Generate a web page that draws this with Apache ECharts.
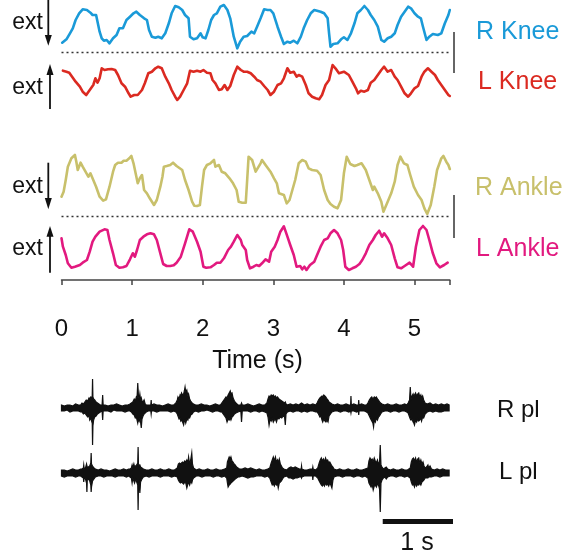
<!DOCTYPE html>
<html><head><meta charset="utf-8">
<script src="https://cdn.jsdelivr.net/npm/echarts/dist/echarts.min.js"></script>
<style>html,body{margin:0;padding:0;background:#fff}#c{width:566px;height:557px}</style>
</head><body><div id="c"></div>
<script>
// ---- data: [time (s), deflection] ----
const xTicks = [0, 1, 2, 3, 4, 5];
const rKnee = [[0.01,13.3],[0.07,16.7],[0.12,22.7],[0.16,27.7],[0.2,36],[0.25,42.7],[0.3,46.7],[0.36,46],[0.41,43.3],[0.44,41],[0.49,41],[0.52,31],[0.54,24.3],[0.57,17.7],[0.6,15.3],[0.64,16],[0.68,12.7],[0.73,17.7],[0.78,21],[0.82,27.7],[0.87,27.7],[0.92,36],[0.97,39.3],[1.02,42.7],[1.06,44.3],[1.11,41],[1.17,37.7],[1.21,36],[1.24,26],[1.28,19.3],[1.33,18.3],[1.37,19.3],[1.42,17.7],[1.47,22.7],[1.52,32.7],[1.56,42.7],[1.61,50],[1.66,48.7],[1.71,46],[1.75,41],[1.8,37.7],[1.82,19.3],[1.87,16.7],[1.92,17.7],[1.97,22.7],[2,18.7],[2.04,17.7],[2.08,26],[2.12,36],[2.16,41],[2.2,42.7],[2.25,49.3],[2.3,51],[2.35,46],[2.39,37.7],[2.44,19.3],[2.49,7.7],[2.53,14.3],[2.58,19.3],[2.63,20],[2.69,24.3],[2.73,22.7],[2.77,29.3],[2.82,37.7],[2.87,46.7],[2.92,46],[2.96,46],[3,42.7],[3.06,29.3],[3.11,19.3],[3.15,12],[3.2,14.3],[3.24,13.3],[3.29,15.3],[3.34,12.7],[3.39,19.3],[3.43,27.7],[3.48,36],[3.53,42.7],[3.58,46],[3.62,45.3],[3.67,44.3],[3.72,42.7],[3.77,37.7],[3.79,22.7],[3.81,9.3],[3.85,12],[3.91,12.7],[3.96,16.7],[4,18.7],[4.05,16],[4.1,22.7],[4.15,32.7],[4.19,42.7],[4.24,46],[4.29,50],[4.34,46],[4.38,41],[4.43,36],[4.48,29.3],[4.53,16],[4.57,14.3],[4.62,17.7],[4.67,19.3],[4.72,22.7],[4.76,31],[4.81,39.3],[4.86,44.3],[4.91,49.3],[4.95,47.7],[5,42.7],[5.05,39.3],[5.09,37.7],[5.12,29.3],[5.17,16],[5.21,19.3],[5.26,22],[5.33,21],[5.38,22.7],[5.43,32.7],[5.48,41],[5.5,46]];
const lKnee = [[0.02,35.3],[0.07,34.3],[0.11,33.3],[0.15,29.3],[0.2,24.3],[0.26,19.3],[0.3,14.3],[0.35,11],[0.4,16],[0.45,21],[0.48,27.7],[0.51,23.3],[0.54,27.7],[0.57,37.7],[0.61,36],[0.66,36.7],[0.71,37],[0.76,36],[0.8,31],[0.85,22.7],[0.9,19.3],[0.95,12.7],[0.98,9.3],[1.03,11],[1.08,11],[1.14,16],[1.18,22.7],[1.23,32.7],[1.28,34.3],[1.33,37.7],[1.37,39.3],[1.42,37.7],[1.47,29.3],[1.52,22.7],[1.56,16],[1.61,9.3],[1.64,6],[1.68,9.3],[1.73,16],[1.78,22.7],[1.82,35.3],[1.87,34.3],[1.92,35.3],[1.97,34.3],[2.01,36],[2.06,33.3],[2.11,32.7],[2.14,26],[2.18,22.7],[2.23,16],[2.27,16.7],[2.31,21],[2.35,16],[2.39,20],[2.44,31],[2.49,39.3],[2.54,36],[2.58,34.3],[2.63,34.3],[2.68,32.7],[2.73,29.3],[2.77,26],[2.82,24.3],[2.87,20],[2.92,16],[2.96,11],[3.01,14.3],[3.06,21],[3.11,22.7],[3.15,27.7],[3.2,37.7],[3.24,33.3],[3.29,34.3],[3.33,29.3],[3.36,31],[3.41,29.3],[3.46,21],[3.5,12.7],[3.55,9.3],[3.6,7.7],[3.65,6.7],[3.69,11],[3.74,21],[3.79,26],[3.84,41],[3.88,37.7],[3.93,32.7],[4,34.3],[4.07,31],[4.12,24.3],[4.17,17.7],[4.2,12.7],[4.24,15.3],[4.29,14.3],[4.34,16],[4.38,23.3],[4.43,26],[4.48,31],[4.53,36],[4.57,39.3],[4.62,34.3],[4.67,36],[4.72,29.3],[4.76,26],[4.81,19.3],[4.86,12.7],[4.91,9.3],[4.95,12.7],[5,17.7],[5.05,20],[5.1,29.3],[5.14,34.3],[5.19,37.7],[5.24,34.3],[5.29,31],[5.33,26],[5.38,21],[5.43,16],[5.48,11],[5.5,10]];
const rAnkle = [[0,23.3],[0.03,28.3],[0.06,40],[0.09,53.3],[0.14,61.7],[0.19,65],[0.21,58.3],[0.23,50],[0.27,57.3],[0.3,53.3],[0.34,48.3],[0.38,43.3],[0.41,46.7],[0.45,40],[0.49,33.3],[0.54,23.3],[0.59,19.3],[0.63,20.7],[0.68,33.3],[0.73,48.3],[0.76,55],[0.8,57.3],[0.85,57.3],[0.88,59.3],[0.92,59.3],[0.96,61.7],[0.99,64],[1.02,56.7],[1.05,46.7],[1.08,36.7],[1.11,41.7],[1.14,45],[1.17,30],[1.21,26.7],[1.25,21.7],[1.31,15],[1.35,20],[1.4,33.3],[1.43,43.3],[1.45,53.3],[1.49,54],[1.54,55],[1.58,57.3],[1.63,54],[1.71,50],[1.75,40],[1.8,30],[1.85,18.3],[1.88,14.3],[1.92,14],[1.96,15],[1.99,33.3],[2.02,50],[2.06,55],[2.11,56.7],[2.16,60],[2.18,53.3],[2.23,55],[2.27,48.3],[2.32,46.7],[2.38,41.7],[2.43,36.7],[2.48,30],[2.51,18.3],[2.56,17.3],[2.61,17.3],[2.63,40],[2.65,63.3],[2.7,60],[2.75,48.3],[2.77,50],[2.82,56.7],[2.84,60],[2.89,55],[2.96,48.3],[3.01,41.7],[3.05,36.7],[3.08,26.7],[3.15,25],[3.19,16.7],[3.23,20],[3.27,30],[3.31,40],[3.36,56.7],[3.41,60],[3.46,58.3],[3.5,51.7],[3.55,50],[3.62,49.3],[3.67,45],[3.72,30],[3.77,20],[3.81,16],[3.86,13.3],[3.91,11.7],[3.96,20],[4,46.7],[4.04,63.3],[4.09,56],[4.15,54],[4.19,55],[4.25,56.7],[4.31,50],[4.36,40],[4.41,30],[4.43,33.3],[4.48,26.7],[4.53,18.3],[4.56,8.3],[4.62,18.3],[4.67,26.7],[4.72,38.3],[4.76,55],[4.8,63.3],[4.85,56.7],[4.9,55],[4.94,45],[4.99,33.3],[5.05,25],[5.1,20],[5.14,11.7],[5.18,6],[5.23,15],[5.28,33.3],[5.32,50],[5.38,61.7],[5.41,64],[5.45,58.3],[5.48,55],[5.5,51]];
const lAnkle = [[0,41.7],[0.02,33.3],[0.06,25],[0.09,16.7],[0.14,12.3],[0.19,13.3],[0.26,15],[0.3,17.3],[0.36,20],[0.4,28.3],[0.44,38.3],[0.48,43.3],[0.54,48.3],[0.61,50.7],[0.65,50],[0.68,40],[0.73,26.7],[0.77,15],[0.82,12.3],[0.87,12.7],[0.92,14],[0.97,20.7],[1.01,26.7],[1.04,23.3],[1.07,30],[1.11,40],[1.16,43.3],[1.21,45.7],[1.26,46.7],[1.31,45.7],[1.35,40],[1.4,26.7],[1.44,16],[1.49,14],[1.54,14],[1.59,14.7],[1.63,17.3],[1.69,23.3],[1.75,36.7],[1.81,50.7],[1.86,48.3],[1.92,38.3],[1.97,28.3],[2.01,13.3],[2.05,12.3],[2.11,12.7],[2.16,15],[2.2,17.3],[2.25,17.3],[2.3,21.7],[2.36,30],[2.4,33.3],[2.44,38.3],[2.49,45],[2.54,40],[2.56,35],[2.58,36.7],[2.61,30],[2.63,20],[2.67,11.7],[2.72,13.3],[2.76,15],[2.8,14],[2.84,16.7],[2.89,20.7],[2.94,18.3],[2.97,28.3],[3.02,33.3],[3.06,40],[3.1,48.3],[3.15,53.7],[3.2,43.3],[3.24,35],[3.29,25],[3.33,13.3],[3.38,14],[3.41,10.7],[3.44,13.3],[3.47,10],[3.52,15],[3.58,18.3],[3.62,25],[3.67,33.3],[3.72,40],[3.77,41.7],[3.81,46.7],[3.86,50],[3.91,46.7],[3.96,40],[3.99,30],[4.02,13.3],[4.07,10],[4.12,11.7],[4.17,13.3],[4.22,16],[4.26,20],[4.31,26.7],[4.36,35],[4.41,40],[4.45,45],[4.5,49.3],[4.54,43.3],[4.57,46.7],[4.62,41.7],[4.67,35],[4.72,21.7],[4.76,12.7],[4.81,11.7],[4.86,14],[4.93,17.3],[4.98,13.3],[5.02,33.3],[5.07,50],[5.12,54],[5.17,50],[5.21,40],[5.26,26.7],[5.31,16.7],[5.36,12.7],[5.42,15],[5.47,17.3]];
// EMG envelopes: [time (s), upper, lower]
const rPl = [[0.00,3,-3],[0.04,2,-3],[0.08,3,-2],[0.12,3,-4],[0.16,2,-3],[0.20,4,-3],[0.24,3,-3],[0.27,3,-4],
[0.29,5,-4],[0.31,4,-6],[0.33,6,-5],[0.35,8,-7],[0.37,7,-9],[0.39,10,-8],[0.40,9,-12],[0.415,11,-10],[0.43,10,-14],[0.435,12,-13],[0.44,29,-37],[0.445,11,-18],[0.455,9,-12],[0.47,8,-9],[0.49,6,-8],[0.51,5,-6],[0.53,4,-5],[0.55,3,-4],[0.575,3,-3],[0.583,13,-12],[0.59,3,-3],
[0.62,3,-3],[0.66,2,-3],[0.70,3,-4],[0.74,3,-2],[0.78,4,-3],[0.82,3,-3],[0.86,2,-3],[0.90,3,-4],[0.94,3,-3],[0.97,4,-3],
[0.99,5,-4],[1.01,6,-6],[1.03,9,-7],[1.045,7,-10],[1.06,11,-9],[1.07,10,-12],[1.08,25,-15],[1.09,12,-11],[1.10,9,-13],[1.11,14,-10],[1.12,8,-14],[1.13,10,-20],[1.14,7,-11],[1.155,6,-8],[1.17,8,-6],[1.185,4,-5],[1.20,3,-4],
[1.23,3,-3],[1.265,3,-3],[1.27,8,-6],[1.275,3,-3],[1.31,4,-3],[1.35,3,-4],[1.39,3,-3],[1.43,2,-3],[1.47,3,-3],[1.51,4,-3],[1.55,3,-4],[1.59,3,-3],
[1.62,5,-4],[1.64,8,-6],[1.65,11,-8],[1.665,9,-11],[1.68,13,-10],[1.69,12,-13],[1.70,15,-12],[1.715,13,-14],[1.73,14,-17],[1.74,17,-13],[1.75,21,-12],[1.76,16,-15],[1.775,18,-11],[1.79,12,-12],[1.80,14,-9],[1.815,9,-10],[1.83,7,-7],[1.85,5,-6],[1.87,4,-4],
[1.90,3,-3],[1.94,3,-4],[1.98,4,-3],[2.02,3,-3],[2.06,3,-2],[2.10,2,-3],[2.14,3,-4],[2.18,4,-3],[2.22,3,-3],[2.25,3,-4],
[2.27,5,-4],[2.29,7,-6],[2.31,9,-8],[2.33,11,-10],[2.345,10,-14],[2.36,13,-11],[2.375,15,-12],[2.39,17,-10],[2.40,14,-12],[2.415,15,-9],[2.43,10,-8],[2.45,7,-6],[2.47,5,-5],
[2.50,3,-4],[2.54,3,-3],[2.55,5,-14],[2.56,3,-3],
[2.60,3,-3],[2.64,4,-3],[2.68,3,-4],[2.72,2,-3],[2.76,3,-3],[2.80,4,-4],[2.84,3,-3],[2.88,3,-4],
[2.91,5,-5],[2.925,9,-9],[2.94,12,-17],[2.955,11,-11],[2.97,13,-13],[2.985,12,-10],[3.00,13,-14],[3.015,11,-12],[3.03,12,-11],[3.045,10,-14],[3.06,11,-10],[3.08,9,-11],[3.10,8,-9],[3.12,7,-10],[3.14,6,-8],[3.16,5,-9],[3.17,6,-17],[3.18,4,-6],[3.20,3,-4],
[3.24,4,-3],[3.28,3,-4],[3.32,4,-3],[3.36,3,-3],[3.40,5,-4],[3.44,3,-3],[3.48,4,-4],[3.52,3,-3],[3.56,4,-3],[3.60,3,-4],
[3.62,5,-4],[3.64,8,-6],[3.66,10,-9],[3.675,11,-8],[3.69,12,-12],[3.70,10,-14],[3.715,13,-11],[3.73,12,-13],[3.745,11,-14],[3.76,9,-12],[3.775,8,-14],[3.79,6,-8],[3.81,5,-6],[3.83,4,-4],
[3.87,3,-3],[3.91,4,-3],[3.95,3,-4],[3.99,3,-3],[4.03,4,-3],[4.07,3,-4],[4.095,3,-3],[4.10,12,-5],[4.105,3,-3],[4.14,4,-3],[4.18,3,-4],[4.205,3,-3],[4.21,8,-7],[4.215,3,-3],[4.25,4,-3],[4.29,3,-3],[4.32,3,-4],
[4.34,5,-5],[4.36,8,-8],[4.38,10,-11],[4.395,11,-13],[4.41,9,-15],[4.42,10,-19],[4.43,11,-12],[4.445,10,-14],[4.46,11,-10],[4.475,9,-12],[4.49,8,-9],[4.505,6,-8],[4.52,5,-6],[4.54,4,-4],
[4.58,3,-3],[4.62,4,-3],[4.66,3,-4],[4.70,3,-3],[4.74,4,-3],[4.78,3,-4],[4.82,3,-3],[4.86,4,-3],[4.89,3,-4],
[4.91,5,-5],[4.93,8,-9],[4.94,21,-11],[4.95,9,-12],[4.965,12,-11],[4.98,14,-14],[4.99,11,-15],[5.00,13,-17],[5.015,15,-12],[5.03,12,-14],[5.045,14,-11],[5.06,15,-13],[5.075,11,-12],[5.09,13,-10],[5.10,10,-13],[5.115,12,-9],[5.13,8,-10],[5.15,5,-6],
[5.18,4,-4],[5.22,5,-3],[5.26,3,-4],[5.30,4,-3],[5.34,3,-4],[5.38,4,-4],[5.42,3,-3],[5.46,4,-3],[5.49,3,-3]];
const lPl = [[0.00,3,-3],[0.04,3,-4],[0.08,2,-3],[0.12,3,-3],[0.16,4,-3],[0.20,3,-4],[0.24,3,-3],[0.27,4,-3],
[0.29,4,-4],[0.31,5,-5],[0.315,8,-9],[0.32,5,-5],[0.34,5,-6],[0.355,9,-10],[0.36,7,-19],[0.365,6,-7],[0.38,6,-6],[0.40,7,-8],[0.415,10,-12],[0.42,20,-19],[0.425,9,-14],[0.44,7,-8],[0.46,5,-6],[0.48,4,-4],
[0.52,3,-3],[0.56,4,-3],[0.60,3,-4],[0.64,3,-3],[0.68,2,-3],[0.72,3,-3],[0.76,4,-4],[0.80,3,-3],[0.84,3,-3],[0.88,4,-3],[0.92,3,-4],[0.95,4,-3],
[0.97,4,-4],[0.99,5,-5],[1.00,8,-10],[1.01,5,-5],[1.025,9,-8],[1.035,6,-10],[1.05,7,-6],[1.065,8,-9],[1.08,10,-12],[1.085,26,-37],[1.09,9,-14],[1.10,7,-10],[1.11,8,-20],[1.12,6,-9],[1.14,5,-6],[1.16,4,-4],
[1.20,3,-3],[1.24,3,-4],[1.28,4,-3],[1.32,3,-3],[1.36,3,-3],[1.40,4,-4],[1.44,3,-3],[1.48,3,-3],[1.52,4,-3],[1.56,3,-4],[1.60,3,-3],
[1.64,5,-4],[1.655,9,-7],[1.67,10,-9],[1.685,9,-10],[1.70,10,-9],[1.715,11,-10],[1.73,10,-11],[1.745,12,-9],[1.76,11,-10],[1.775,13,-15],[1.79,10,-11],[1.80,16,-9],[1.815,9,-12],[1.83,13,-8],[1.845,20,-10],[1.855,9,-7],[1.87,5,-5],
[1.91,3,-3],[1.95,4,-3],[1.99,3,-4],[2.03,3,-3],[2.07,4,-3],[2.11,3,-3],[2.15,3,-4],[2.19,4,-3],[2.23,3,-3],[2.27,3,-4],[2.31,4,-3],
[2.34,5,-5],[2.35,11,-10],[2.36,13,-14],[2.375,16,-12],[2.39,14,-11],[2.40,16,-10],[2.415,12,-9],[2.43,11,-8],[2.445,9,-7],[2.46,8,-6],[2.48,6,-5],[2.50,5,-4],[2.52,4,-4],
[2.56,4,-3],[2.60,5,-4],[2.64,4,-5],[2.68,5,-4],[2.72,4,-4],[2.76,3,-3],[2.80,4,-3],[2.84,3,-3],[2.88,3,-4],[2.92,4,-3],
[2.95,5,-5],[2.97,10,-9],[2.985,13,-12],[3.00,16,-11],[3.015,12,-13],[3.03,16,-10],[3.045,11,-12],[3.06,13,-11],[3.07,10,-15],[3.085,14,-10],[3.10,9,-9],[3.115,7,-8],[3.13,5,-6],[3.15,4,-4],
[3.19,3,-3],[3.22,5,-5],[3.25,6,-5],[3.28,5,-6],[3.31,6,-5],[3.34,5,-5],[3.37,4,-4],[3.395,4,-4],[3.40,7,-5],[3.405,4,-4],[3.44,3,-3],[3.48,3,-3],[3.52,4,-3],[3.555,4,-3],[3.56,6,-7],[3.565,4,-3],[3.60,3,-3],
[3.63,5,-5],[3.65,10,-8],[3.665,13,-10],[3.68,15,-12],[3.695,12,-13],[3.71,14,-11],[3.725,11,-13],[3.74,15,-10],[3.755,12,-12],[3.77,13,-11],[3.785,10,-13],[3.80,11,-10],[3.815,9,-12],[3.83,7,-15],[3.845,6,-7],[3.86,4,-4],
[3.90,3,-3],[3.94,4,-3],[3.98,3,-4],[4.02,3,-3],[4.06,4,-3],[4.10,3,-3],[4.14,3,-4],[4.18,4,-3],[4.22,3,-3],[4.26,3,-4],[4.30,4,-3],
[4.34,5,-5],[4.355,12,-10],[4.37,15,-12],[4.385,13,-14],[4.40,14,-11],[4.415,11,-17],[4.43,15,-13],[4.445,12,-12],[4.46,10,-14],[4.475,13,-11],[4.49,9,-12],[4.505,11,-16],[4.515,28,-39],[4.525,8,-10],[4.54,6,-7],[4.56,4,-5],
[4.58,5,-4],[4.60,6,-6],[4.62,4,-4],
[4.66,3,-3],[4.70,4,-3],[4.74,3,-4],[4.78,3,-3],[4.82,4,-3],[4.86,3,-4],[4.90,3,-3],
[4.94,5,-5],[4.955,11,-9],[4.97,14,-12],[4.985,15,-11],[5.00,12,-14],[5.015,15,-10],[5.03,11,-13],[5.045,14,-11],[5.06,15,-12],[5.075,10,-10],[5.09,13,-12],[5.105,9,-9],[5.12,11,-8],[5.135,7,-7],[5.15,5,-5],
[5.17,6,-5],[5.19,8,-5],[5.20,5,-4],[5.22,7,-4],[5.24,4,-4],[5.28,3,-3],[5.32,4,-3],[5.36,3,-4],[5.40,4,-3],[5.44,3,-3],[5.49,3,-3]];
const scaleBar1s = [[4.55,-48.5],[5.55,-48.5]];
const kneeZero = 3.7, ankleZero = 3.3;

// ---- chart ----
const FONT = '"Liberation Sans", Arial, Helvetica, sans-serif';
const COL = {rk:'#1a9ad8', lk:'#db2a21', ra:'#c8c06b', la:'#e2197f', ink:'#111111'};
const chart = echarts.init(document.getElementById('c'), null, {renderer:'canvas'});
const GL = 61.5, GR = 116.2;
const grids = [
  {top:0, height:56, min:0, max:56},
  {top:56, height:50, min:0, max:50},
  {top:140, height:80, min:0, max:80},
  {top:220, height:86, min:-26, max:60},
  {top:368, height:80, min:-40, max:40},
  {top:433, height:100, min:-60, max:40}
];
function emgRender(arr){
  return function(params, api){
    const pts = [];
    for (let i = 0; i < arr.length; i++) pts.push(api.coord([arr[i][0], arr[i][1]]));
    for (let i = arr.length - 1; i >= 0; i--) pts.push(api.coord([arr[i][0], arr[i][2]]));
    return {type:'polygon', shape:{points:pts}, style:{fill:COL.ink, stroke:COL.ink, lineWidth:1.2}};
  };
}
function trace(data, idx, color, extra){
  return Object.assign({type:'line', xAxisIndex:idx, yAxisIndex:idx, data:data, showSymbol:false, symbol:'none',
    lineStyle:{color:color, width:2.6, join:'round', cap:'round'}, silent:true, clip:true}, extra||{});
}
function zeroLine(v){
  return {silent:true, symbol:'none', label:{show:false},
    lineStyle:{color:'#333', type:[2,3], width:1.4}, data:[{yAxis:v}]};
}
function txt(x, y, s, size, color, align){
  return {type:'text', x:x, y:y, silent:true,
    style:{text:s, fill:color, font:size + 'px ' + FONT, textAlign:align||'left', textVerticalAlign:'middle', verticalAlign:'middle'}};
}
function vline(x, y1, y2, color, w){
  return {type:'line', silent:true, shape:{x1:x, y1:y1, x2:x, y2:y2}, style:{stroke:color, lineWidth:w}};
}
function tri(pts){
  return {type:'polygon', silent:true, shape:{points:pts}, style:{fill:COL.ink}};
}
const option = {
  animation:false,
  backgroundColor:'#fff',
  grid: grids.map(g => ({left:GL, right:GR, top:g.top, height:g.height, containLabel:false})),
  xAxis: grids.map((g, i) => ({
    type:'value', gridIndex:i, min:0, max:5.5, interval:1, show: i === 3,
    axisLine:{show:true, lineStyle:{color:'#444', width:1.5}},
    axisTick:{show:true, length:5, lineStyle:{color:'#444', width:1.5}},
    axisLabel:{show:true, fontSize:24, color:COL.ink, fontFamily:FONT, margin:11,
      formatter: v => (xTicks.indexOf(v) >= 0 ? String(v) : '')},
    splitLine:{show:false}
  })),
  yAxis: grids.map((g, i) => ({type:'value', gridIndex:i, min:g.min, max:g.max, show:false, splitLine:{show:false}})),
  series: [
    trace(rKnee, 0, COL.rk, {markLine: zeroLine(kneeZero)}),
    trace(lKnee, 1, COL.lk),
    trace(rAnkle, 2, COL.ra, {markLine: zeroLine(ankleZero)}),
    trace(lAnkle, 3, COL.la),
    {type:'custom', xAxisIndex:4, yAxisIndex:4, data:[[0,0]], renderItem: emgRender(rPl), silent:true, clip:false},
    {type:'custom', xAxisIndex:5, yAxisIndex:5, data:[[0,0]], renderItem: emgRender(lPl), silent:true, clip:false},
    {type:'line', xAxisIndex:5, yAxisIndex:5, data:scaleBar1s, symbol:'none', silent:true, clip:false,
      lineStyle:{color:COL.ink, width:5, cap:'butt'}}
  ],
  graphic: [
    txt(27.5, 22.5, 'ext', 23, COL.ink, 'center'),
    txt(27.5, 88, 'ext', 23, COL.ink, 'center'),
    txt(27.5, 187, 'ext', 23, COL.ink, 'center'),
    txt(27.5, 249, 'ext', 23, COL.ink, 'center'),
    vline(48.3, 0, 37, COL.ink, 1.8), tri([[44.8,35],[51.8,35],[48.3,45.7]]),
    vline(50, 73, 109, COL.ink, 1.8), tri([[46.5,75],[53.5,75],[50,64]]),
    vline(48.3, 162.7, 200, COL.ink, 1.8), tri([[44.8,198],[51.8,198],[48.3,209.3]]),
    vline(50, 234, 272.7, COL.ink, 1.8), tri([[46.5,236.7],[53.5,236.7],[50,226]]),
    vline(454, 32, 73, '#666', 2),
    vline(454, 195, 238, '#666', 2),
    txt(476, 32, 'R Knee', 25, COL.rk),
    txt(478, 82.5, 'L Knee', 25, COL.lk),
    txt(475, 188, 'R Ankle', 25, COL.ra),
    txt(476, 249, 'L Ankle', 25, COL.la),
    txt(257.5, 361, 'Time (s)', 25, COL.ink, 'center'),
    txt(497, 410, 'R pl', 24, COL.ink),
    txt(499, 472, 'L pl', 24, COL.ink),
    txt(417, 543, '1 s', 25, COL.ink, 'center')
  ]
};
chart.setOption(option);
</script></body></html>
